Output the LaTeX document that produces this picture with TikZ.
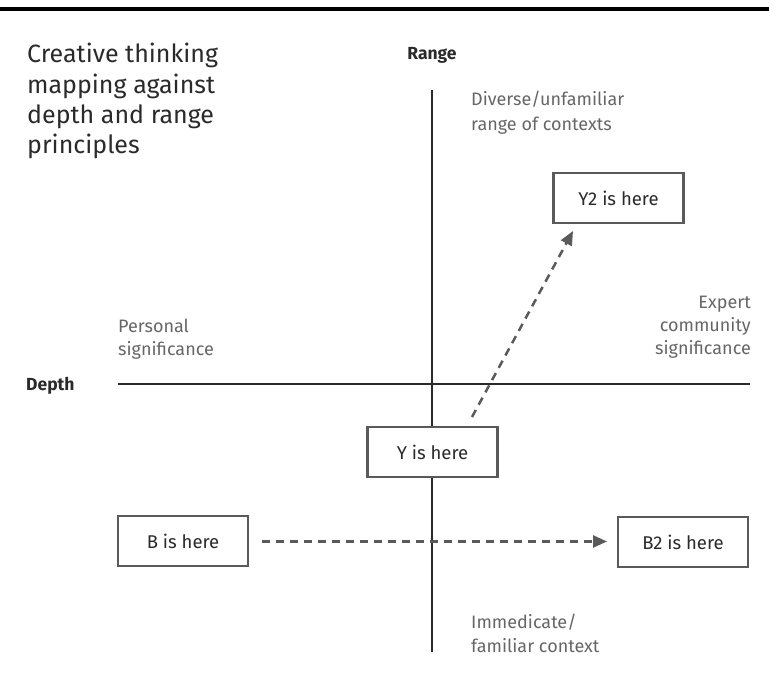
\documentclass[tikz,border=0pt]{standalone}
\usepackage{fontspec}
\setmainfont{Fira Sans}
\usetikzlibrary{arrows.meta}
\definecolor{txtgray}{HTML}{666666}
\definecolor{boxgray}{HTML}{5A5A5A}
\definecolor{dark}{HTML}{2A2A2A}
\begin{document}
\begin{tikzpicture}[x=1pt,y=-1pt,
  axis/.style={line width=2.5pt, draw=dark},
  herebox/.style={draw=boxgray, line width=2.5pt, minimum width=130pt, minimum height=50pt, inner sep=0pt, font=\fontsize{18.5}{22}\selectfont, text=dark},
  lbl/.style={inner sep=0pt, font=\fontsize{18}{22}\selectfont, text=txtgray},
  ttl/.style={inner sep=0pt, anchor=base west, font=\fontsize{25}{30}\selectfont, text=dark},
  axlbl/.style={inner sep=0pt, font=\bfseries\fontsize{17.5}{21}\selectfont, text=dark},
  move/.style={draw=boxgray, line width=2.5pt, dash pattern=on 8pt off 6pt, -{Triangle[length=14pt,width=12pt]}}
]
\useasboundingbox (0,0) rectangle (769,685);
\draw[line width=4pt, draw=black] (0,9) -- (769,9);
% title
\node[ttl] (t1) at (27,63) {Creative thinking};
\node[ttl] (t2) at (27,93) {mapping against};
\node[ttl] (t3) at (27,123) {depth and range};
\node[ttl] (t4) at (27,153) {principles};
% axes
\coordinate (vtop) at (432,90);
\coordinate (vbot) at (432,652);
\coordinate (hl) at (118,384);
\coordinate (hr) at (750,384);
\draw[axis] (vtop) -- (vbot);
\draw[axis] (hl) -- (hr);
\node[axlbl, anchor=base] (range) at (432,60) {Range};
\node[axlbl, anchor=base west] (depth) at (26,390) {Depth};
% labels
\node[lbl, anchor=base west] (div1) at (471,106) {Diverse/unfamiliar};
\node[lbl, anchor=base west] (div2) at (471,130) {range of contexts};
\node[lbl, anchor=base west] (per1) at (118,332) {Personal};
\node[lbl, anchor=base west] (per2) at (118,355) {significance};
\node[lbl, anchor=base east] (exp1) at (751,308) {Expert};
\node[lbl, anchor=base east] (exp2) at (751,331) {community};
\node[lbl, anchor=base east] (exp3) at (751,354) {significance};
\node[lbl, anchor=base west] (imm1) at (471,628) {Immedicate/};
\node[lbl, anchor=base west] (imm2) at (471,652) {familiar context};
% boxes
\node[herebox, fill=white] (Y) at (432.5,452) {Y is here};
\node[herebox] (Y2) at (618.5,198) {Y2 is here};
\node[herebox] (B) at (183,541) {B is here};
\node[herebox] (B2) at (683,542) {B2 is here};
% arrows
\coordinate (ys) at (472,417);
\coordinate (yt) at (573,231);
\draw[move] (ys) -- (yt);
\coordinate (bs) at (262,541.5);
\coordinate (bt) at (607,541.5);
\draw[move] (bs) -- (bt);
\end{tikzpicture}
\end{document}
